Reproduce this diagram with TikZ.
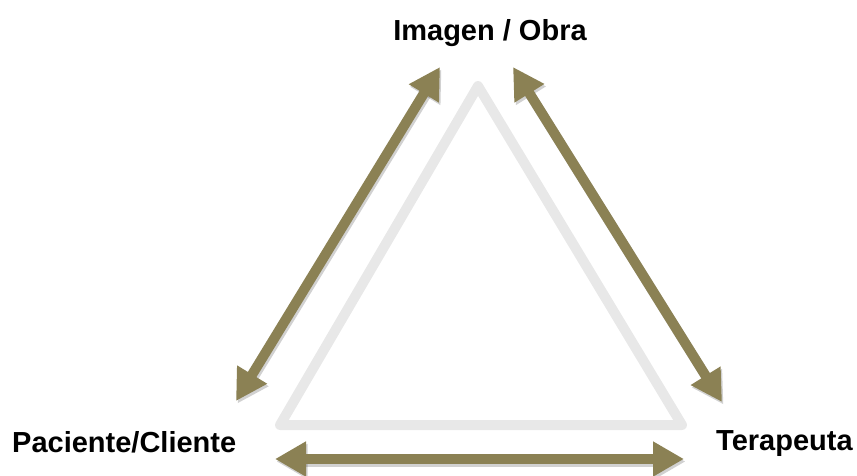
\documentclass[tikz,border=0pt]{standalone}
\usepackage{fontspec}
\setmainfont{Liberation Sans}
\usetikzlibrary{arrows.meta}

\definecolor{olive}{HTML}{8B8154}
\definecolor{lightgray}{HTML}{E8E8E8}

\tikzset{
  label/.style={inner sep=0pt, font=\fontsize{29}{31}\selectfont\bfseries},
  link/.style={olive, line width=10pt, {Triangle[width=33pt,length=31pt]}-{Triangle[width=33pt,length=31pt]}},
  linkshadow/.style={black, opacity=0.18, line width=10pt, {Triangle[width=33pt,length=31pt]}-{Triangle[width=33pt,length=31pt]}}
}

\begin{document}
\begin{tikzpicture}[x=1pt, y=-1pt]
\useasboundingbox (0,0) rectangle (857,475);
%			\draw[help lines] (0,0) grid[step=50] (857,475);
			\node[label, anchor=base] (obra) at (490,40) {Imagen / Obra};
			\node[label, anchor=base west] (paciente) at (12,452) {Paciente/Cliente};
			\node[label, anchor=base west] (terapeuta) at (716,450) {Terapeuta};
			% background triangle
			\coordinate (top) at (478,86);
			\coordinate (left) at (280,425);
			\coordinate (right) at (682,425);
			\draw[lightgray, line width=10pt, line join=round] (top) -- (left) -- (right) -- cycle;
			% arrow end points
			\coordinate (a1) at (236,401);
			\coordinate (a2) at (440,67);
			\coordinate (b1) at (513,67);
			\coordinate (b2) at (722,402);
			\coordinate (c1) at (275,459);
			\coordinate (c2) at (684,459);
			\draw[linkshadow, transform canvas={shift={(1.5pt,-2.5pt)}}] (a1) -- (a2);
			\draw[linkshadow, transform canvas={shift={(1.5pt,-2.5pt)}}] (b1) -- (b2);
			\draw[linkshadow, transform canvas={shift={(1.5pt,-2.5pt)}}] (c1) -- (c2);
			\draw[link] (a1) -- (a2);
			\draw[link] (b1) -- (b2);
			\draw[link] (c1) -- (c2);
		\end{tikzpicture}
\end{document}
